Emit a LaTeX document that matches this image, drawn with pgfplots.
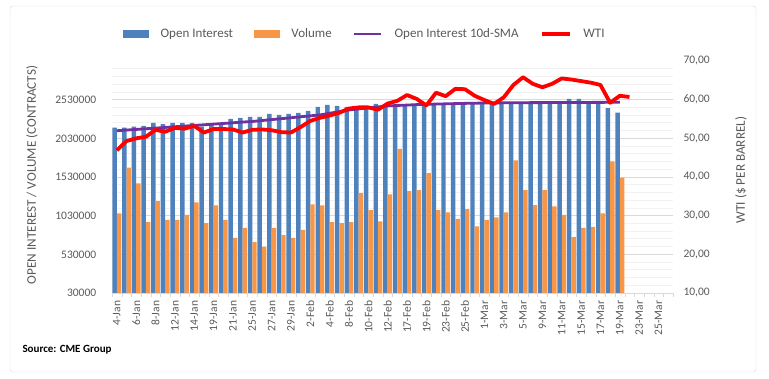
\documentclass[border=0pt]{standalone}
\usepackage{pgfplots}
\pgfplotsset{compat=1.18}
\usepackage{fontspec}
\setmainfont{Carlito}
\definecolor{oiblue}{RGB}{79,129,189}
\definecolor{volorange}{RGB}{247,150,70}
\definecolor{smapurple}{RGB}{112,48,160}
\definecolor{wtired}{RGB}{255,0,0}
\definecolor{gridmaj}{RGB}{217,217,217}
\definecolor{gridmin}{RGB}{242,242,242}
\definecolor{labelgray}{RGB}{89,89,89}
\begin{document}
\begin{tikzpicture}
\path[use as bounding box] (0pt,0pt) rectangle (769pt,379pt);
\draw[gridmaj, rounded corners=3pt] (10pt,7pt) rectangle (756pt,373pt);
\node[anchor=west, font=\bfseries\fontsize{11}{13}\selectfont] at (19pt,29pt) {Source: CME Group};
\begin{axis}[
  at={(112pt,86pt)}, anchor=south west, scale only axis,
  width=561pt, height=232pt,
  xmin=-0.5, xmax=57.5, ymin=30000, ymax=3030000,
  scaled y ticks=false,
  axis x line*=bottom, axis y line*=left,
  x axis line style={draw=gridmaj},
  y axis line style={draw=none},
  xtick={0,2,...,56},
  xticklabels={4-Jan,6-Jan,8-Jan,12-Jan,14-Jan,19-Jan,21-Jan,25-Jan,27-Jan,29-Jan,2-Feb,4-Feb,8-Feb,10-Feb,12-Feb,17-Feb,19-Feb,23-Feb,25-Feb,1-Mar,3-Mar,5-Mar,9-Mar,11-Mar,15-Mar,17-Mar,19-Mar,23-Mar,25-Mar},
  minor xtick={-0.5,0.5,...,57.5},
  major x tick style={draw=none},
  minor x tick style={draw=gridmaj},
  minor tick length=4pt, tick align=outside,
  xticklabel style={rotate=90, anchor=east, font=\fontsize{11.5}{13}\selectfont, text=labelgray},
  ytick={30000,530000,1030000,1530000,2030000,2530000},
  yticklabels={30000,530000,1030000,1530000,2030000,2530000},
  minor ytick={130000,230000,330000,430000,630000,730000,830000,930000,1130000,1230000,1330000,1430000,1630000,1730000,1830000,1930000,2130000,2230000,2330000,2430000,2630000,2730000,2830000,2930000},
  y tick style={draw=none},
  ymajorgrids, yminorgrids,
  major grid style={draw=gridmaj, line width=0.8pt},
  minor grid style={draw=gridmin, line width=0.8pt},
  yticklabel style={font=\fontsize{11.5}{13}\selectfont, text=labelgray, xshift=-8pt},
  every axis y label/.style={at={(axis description cs:-0.1426,0.509)}, rotate=90, anchor=center},
  ylabel={OPEN INTEREST / VOLUME (CONTRACTS)},
  ylabel style={font=\fontsize{13.2}{15}\selectfont, text=labelgray},
]
\addplot[ybar, bar width=0.46, bar shift=-0.23, fill=oiblue, draw=none] coordinates {
(0,2167000)(1,2167000)(2,2180000)(3,2192000)(4,2231000)(5,2214000)(6,2231000)(7,2231000)(8,2231000)(9,2180000)
(10,2205000)(11,2205000)(12,2282000)(13,2295000)(14,2308000)(15,2308000)(16,2346000)(17,2333000)(18,2346000)(19,2359000)
(20,2385000)(21,2436000)(22,2462000)(23,2449000)(24,2436000)(25,2445000)(26,2432000)(27,2474000)(28,2440000)(29,2455000)
(30,2464000)(31,2477000)(32,2468000)(33,2470000)(34,2470000)(35,2472000)(36,2476000)(37,2477000)(38,2478000)(39,2480000)
(40,2485000)(41,2480000)(42,2490000)(43,2495000)(44,2490000)(45,2500000)(46,2505000)(47,2541000)(48,2541000)(49,2498000)
(50,2477000)(51,2421000)(52,2361000)};
\addplot[ybar, bar width=0.46, bar shift=0.23, fill=volorange, draw=none] coordinates {
(0,1060000)(1,1650000)(2,1449000)(3,945000)(4,1218000)(5,974000)(6,974000)(7,1039000)(8,1201000)(9,932000)
(10,1163000)(11,974000)(12,744000)(13,872000)(14,688000)(15,628000)(16,872000)(17,778000)(18,744000)(19,846000)
(20,1175000)(21,1163000)(22,945000)(23,932000)(24,945000)(25,1321000)(26,1103000)(27,957000)(28,1304000)(29,1893000)
(30,1346000)(31,1359000)(32,1581000)(33,1103000)(34,1073000)(35,987000)(36,1116000)(37,893000)(38,974000)(39,1009000)
(40,1073000)(41,1744000)(42,1359000)(43,1167000)(44,1359000)(45,1150000)(46,1039000)(47,752000)(48,872000)(49,885000)
(50,1060000)(51,1731000)(52,1522000)};
\addplot[smapurple, line width=2.8pt, mark=none] coordinates {
(0,2128000)(1,2137000)(2,2145000)(3,2154000)(4,2162000)(5,2171000)(6,2180000)(7,2188000)(8,2197000)(9,2205000)
(10,2214000)(11,2222000)(12,2231000)(13,2240000)(14,2248000)(15,2260000)(16,2272000)(17,2284000)(18,2296000)(19,2309000)
(20,2321000)(21,2333000)(22,2354000)(23,2376000)(24,2397000)(25,2410000)(26,2423000)(27,2436000)(28,2449000)(29,2455000)
(30,2460000)(31,2466000)(32,2469000)(33,2473000)(34,2476000)(35,2479000)(36,2482000)(37,2484000)(38,2487000)(39,2488000)
(40,2489000)(41,2490000)(42,2491000)(43,2491500)(44,2492000)(45,2492500)(46,2493000)(47,2493500)(48,2494000)(49,2494500)
(50,2495000)(51,2495500)(52,2496000)};
\end{axis}
\begin{axis}[
  at={(112pt,86pt)}, anchor=south west, scale only axis,
  width=561pt, height=232pt,
  xmin=-0.5, xmax=57.5, ymin=10, ymax=70,
  axis x line=none, axis y line*=right,
  y axis line style={draw=none},
  ytick={10,20,30,40,50,60,70},
  yticklabels={{10,00},{20,00},{30,00},{40,00},{50,00},{60,00},{70,00}},
  y tick style={draw=none},
  yticklabel style={font=\fontsize{11.5}{13}\selectfont, text=labelgray, xshift=7pt},
  every axis y label/.style={at={(axis description cs:1.121,0.53)}, rotate=90, anchor=center},
  ylabel={WTI (\$ PER BARREL)},
  ylabel style={font=\fontsize{13.2}{15}\selectfont, text=labelgray},
  legend columns=4,
  legend style={at={(axis description cs:0.0196,1.116)}, anchor=west, draw=none, fill=none,
    font=\fontsize{13}{15}\selectfont, text=labelgray, inner sep=0pt,
    nodes={inner sep=0pt},
    /tikz/every odd column/.append style={column sep=12pt},
    /tikz/every even column/.append style={column sep=21pt}},
]
\addplot[wtired, line width=3.8pt, mark=none, line join=round, forget plot] coordinates {
(0,46.9)(1,49.3)(2,50.0)(3,50.4)(4,52.2)(5,51.7)(6,52.7)(7,52.5)(8,53.2)(9,51.5)
(10,52.4)(11,52.4)(12,52.3)(13,51.5)(14,52.2)(15,52.3)(16,52.1)(17,51.6)(18,51.5)(19,52.9)
(20,54.5)(21,55.3)(22,55.9)(23,56.6)(24,57.7)(25,58.0)(26,58.0)(27,57.4)(28,59.0)(29,59.7)
(30,61.2)(31,60.2)(32,58.5)(33,61.8)(34,60.9)(35,62.8)(36,62.7)(37,61.0)(38,59.9)(39,58.9)
(40,60.6)(41,63.8)(42,65.8)(43,64.1)(44,63.2)(45,64.1)(46,65.5)(47,65.2)(48,64.8)(49,64.4)
(50,63.8)(51,59.2)(52,61.0)(53,60.7)};
\addlegendimage{legend image code/.code={\fill[oiblue] (0pt,-3.5pt) rectangle (25pt,3.5pt);}}
\addlegendentry{Open Interest}
\addlegendimage{legend image code/.code={\fill[volorange] (0pt,-3.5pt) rectangle (25pt,3.5pt);}}
\addlegendentry{Volume}
\addlegendimage{legend image code/.code={\draw[smapurple, line width=2.8pt] (0pt,0pt) -- (27pt,0pt);}}
\addlegendentry{Open Interest 10d-SMA}
\addlegendimage{legend image code/.code={\draw[wtired, line width=3.8pt] (0pt,0pt) -- (28pt,0pt);}}
\addlegendentry{WTI}
\end{axis}
\end{tikzpicture}
\end{document}
